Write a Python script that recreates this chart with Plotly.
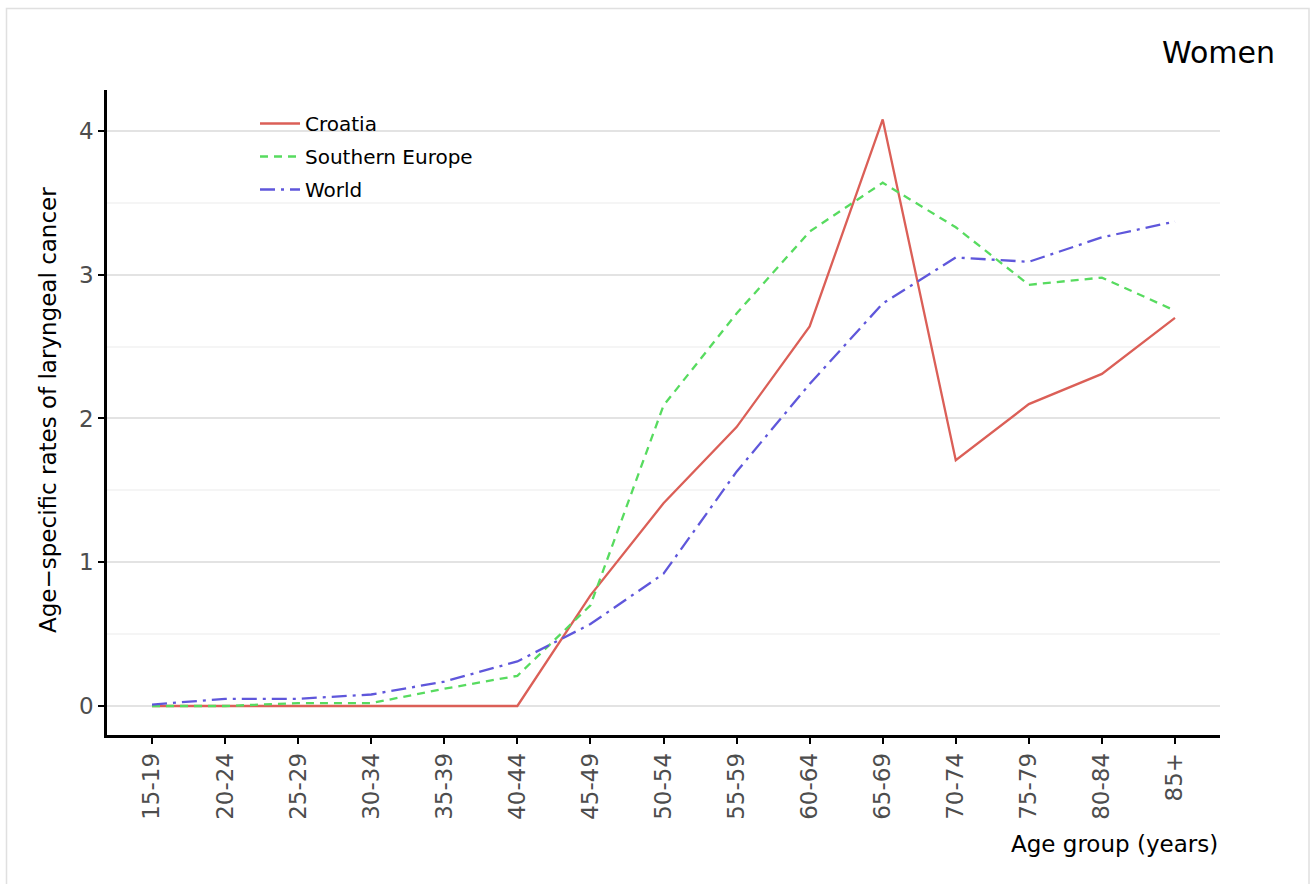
import plotly.graph_objects as go

age_groups = ["15-19", "20-24", "25-29", "30-34", "35-39", "40-44", "45-49",
              "50-54", "55-59", "60-64", "65-69", "70-74", "75-79", "80-84", "85+"]
croatia = [0.0, 0.0, 0.0, 0.0, 0.0, 0.0, 0.77, 1.41, 1.94, 2.64, 4.08, 1.71, 2.10, 2.31, 2.70]
southern_europe = [0.0, 0.0, 0.02, 0.02, 0.12, 0.21, 0.70, 2.09, 2.73, 3.30, 3.64, 3.33, 2.93, 2.98, 2.75]
world = [0.01, 0.05, 0.05, 0.08, 0.17, 0.31, 0.57, 0.92, 1.63, 2.24, 2.80, 3.12, 3.09, 3.26, 3.37]
y_ticks = [0, 1, 2, 3, 4]

W, H = 1311, 884
L, R, T, B = 107, 91, 90, 149
pw, ph = W - L - R, H - T - B

def px_x(p):
    return (p - L) / pw

def px_y(p):
    return (H - B - p) / ph

FONT = "DejaVu Sans"
idx = list(range(len(age_groups)))

fig = go.Figure()
fig.add_trace(go.Scatter(x=idx, y=croatia, mode="lines", name="Croatia", legendgroup="a",
                         line=dict(color="#db5f57", width=2.3)))
fig.add_trace(go.Scatter(x=idx, y=southern_europe, mode="lines", name="Southern Europe", legendgroup="b",
                         line=dict(color="#57db5f", width=2.3, dash="8px,6px")))
fig.add_trace(go.Scatter(x=idx, y=world, mode="lines", name="World", legendgroup="c",
                         line=dict(color="#5f57db", width=2.3, dash="15px,6px,3px,6px")))

fig.update_layout(
    width=W, height=H,
    margin=dict(l=L, r=R, t=T, b=B, pad=0),
    paper_bgcolor="white", plot_bgcolor="white",
    font=dict(family=FONT, color="black"),
    showlegend=True,
    legend=dict(x=px_x(255), y=px_y(104), xanchor="left", yanchor="top",
                bgcolor="rgba(0,0,0,0)", font=dict(size=20, color="black"),
                tracegroupgap=4, itemwidth=40),
    xaxis=dict(
        range=[-0.616, 14.616], tickmode="array", tickvals=idx, ticktext=age_groups,
        tickangle=-90, showgrid=False, zeroline=False,
        showline=True, linecolor="black", linewidth=2.5,
        ticks="outside", ticklen=6, tickwidth=2.2, tickcolor="black",
        tickfont=dict(size=23, color="#4d4d4d", family=FONT),
    ),
    yaxis=dict(
        range=[-0.2017, 4.285], tickmode="array", tickvals=y_ticks,
        ticktext=[str(v) for v in y_ticks],
        showgrid=True, gridcolor="#e3e3e3", gridwidth=2, zeroline=False,
        showline=True, linecolor="black", linewidth=2.5,
        ticks="outside", ticklen=6, tickwidth=2.2, tickcolor="black",
        tickfont=dict(size=23, color="#4d4d4d", family=FONT),
        minor=dict(dtick=0.5, tick0=0.5, showgrid=True, gridcolor="#f5f5f5", gridwidth=1.5),
    ),
)

# outer frame
fig.add_shape(type="rect", xref="paper", yref="paper",
              x0=px_x(6.5), x1=px_x(1309), y0=px_y(900), y1=px_y(8.5),
              line=dict(color="#e0e0e0", width=1.5), fillcolor="rgba(0,0,0,0)", layer="below")

fig.add_annotation(text="Women", xref="paper", yref="paper", x=px_x(1277), y=px_y(53),
                   xanchor="right", yanchor="middle", showarrow=False,
                   font=dict(size=30, color="black", family=FONT))
fig.add_annotation(text="Age group (years)", xref="paper", yref="paper", x=px_x(1220), y=px_y(844),
                   xanchor="right", yanchor="middle", showarrow=False,
                   font=dict(size=23, color="black", family=FONT))
fig.add_annotation(text="Age\u2212specific rates of laryngeal cancer", xref="paper", yref="paper",
                   x=px_x(48), y=px_y(410), xanchor="center", yanchor="middle", textangle=-90,
                   showarrow=False, font=dict(size=23, color="black", family=FONT))

fig.write_html("out.html", config={"displayModeBar": False},
               post_script="document.body.style.margin='0';")
